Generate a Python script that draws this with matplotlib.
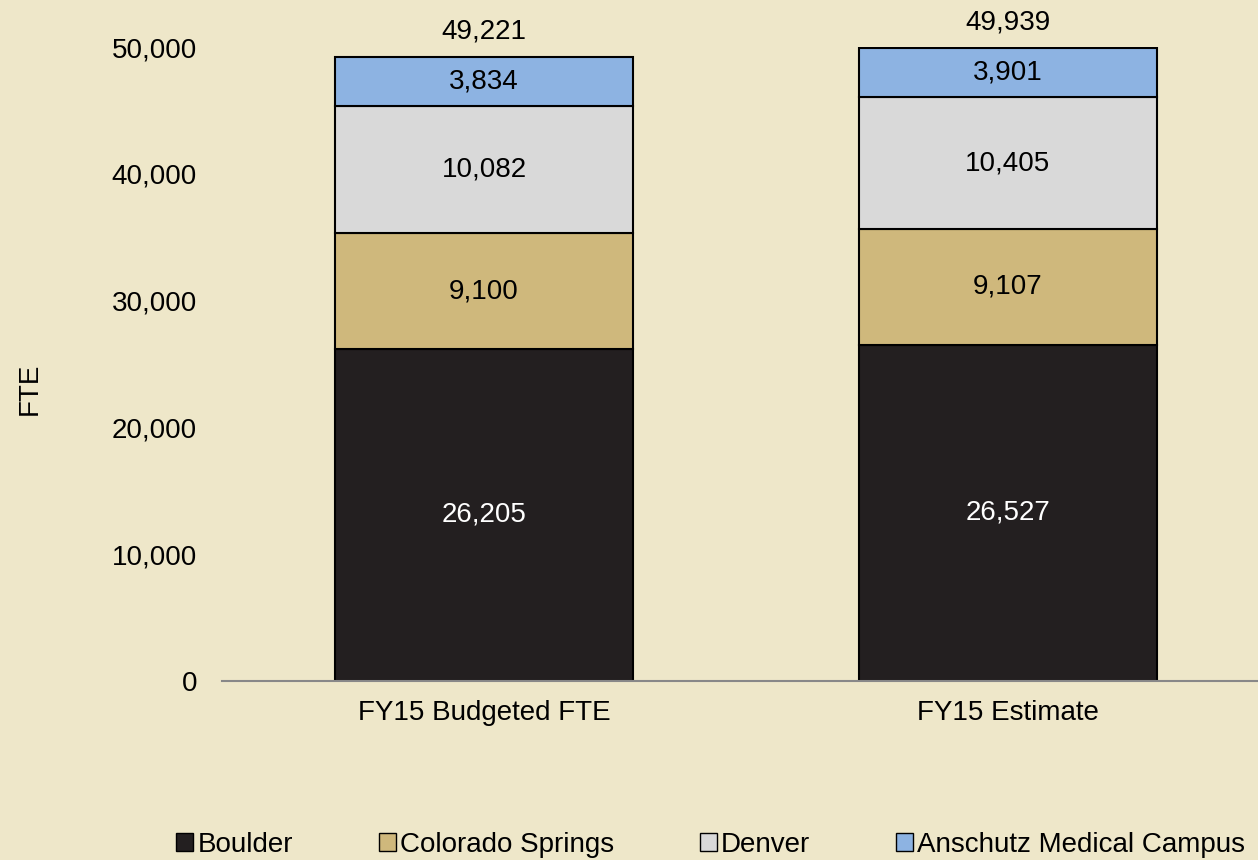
import matplotlib
matplotlib.use("Agg")
import matplotlib.pyplot as plt
from matplotlib.patches import Patch
import numpy as np

categories = ["FY15 Budgeted FTE", "FY15 Estimate"]
series_names = ["Boulder", "Colorado Springs", "Denver", "Anschutz Medical Campus"]
boulder = [26205, 26527]
colorado_springs = [9100, 9107]
denver = [10082, 10405]
anschutz = [3834, 3901]
totals = [49221, 49939]

colors = ["#231F20", "#CFB87C", "#D9D9D9", "#8DB3E2"]
text_colors = ["white", "black", "black", "black"]
bg = "#EEE7C9"
fs = 20

plt.rcParams["font.family"] = ["Liberation Sans", "DejaVu Sans"]

fig = plt.figure(figsize=(12.58, 8.6), dpi=100, facecolor=bg)
ax = fig.add_axes([0.1765, 0.2081, 0.833, 0.7372])
ax.set_facecolor(bg)

x = np.arange(len(categories))
bottom = np.zeros(len(categories))
for vals, name, c, tc in zip([boulder, colorado_springs, denver, anschutz],
                             series_names, colors, text_colors):
    vals = np.array(vals)
    ax.bar(x, vals, 0.57, bottom=bottom, color=c, edgecolor="black", linewidth=1.5, label=name)
    for xi, b, v in zip(x, bottom, vals):
        ax.text(xi, b + v / 2, f"{v:,}", ha="center", va="center", fontsize=fs, color=tc)
    bottom += vals

for xi, t in zip(x, totals):
    ax.annotate(f"{t:,}", (xi, t), xytext=(0, 18), textcoords="offset points",
                ha="center", va="center", fontsize=fs, annotation_clip=False)

ax.set_xlim(-0.5, 1.5)
ax.set_ylim(0, 50000)
ax.set_yticks(range(0, 50001, 10000))
ax.yaxis.set_major_formatter(matplotlib.ticker.FuncFormatter(lambda v, p: f"{int(v):,}"))
ax.set_xticks(x)
ax.set_xticklabels(categories)
ax.tick_params(axis="both", length=0, labelsize=fs, pad=18)
ax.tick_params(axis="x", pad=14)
for s in ["top", "right", "left"]:
    ax.spines[s].set_visible(False)
ax.spines["bottom"].set_color("#888888")
ax.spines["bottom"].set_linewidth(1.5)

fig.text(0.024, 0.548, "FTE", rotation=90, ha="center", va="center", fontsize=fs)

handles = [Patch(facecolor=c, edgecolor="black", label=n) for c, n in zip(colors, series_names)]
fig.legend(handles=handles, loc="center", bbox_to_anchor=(0.565, 0.018), ncol=4, frameon=False,
           fontsize=fs, handlelength=0.6, handleheight=0.6, handletextpad=0.15, columnspacing=3.1)

fig.savefig("out.png", dpi=100, facecolor=bg)
